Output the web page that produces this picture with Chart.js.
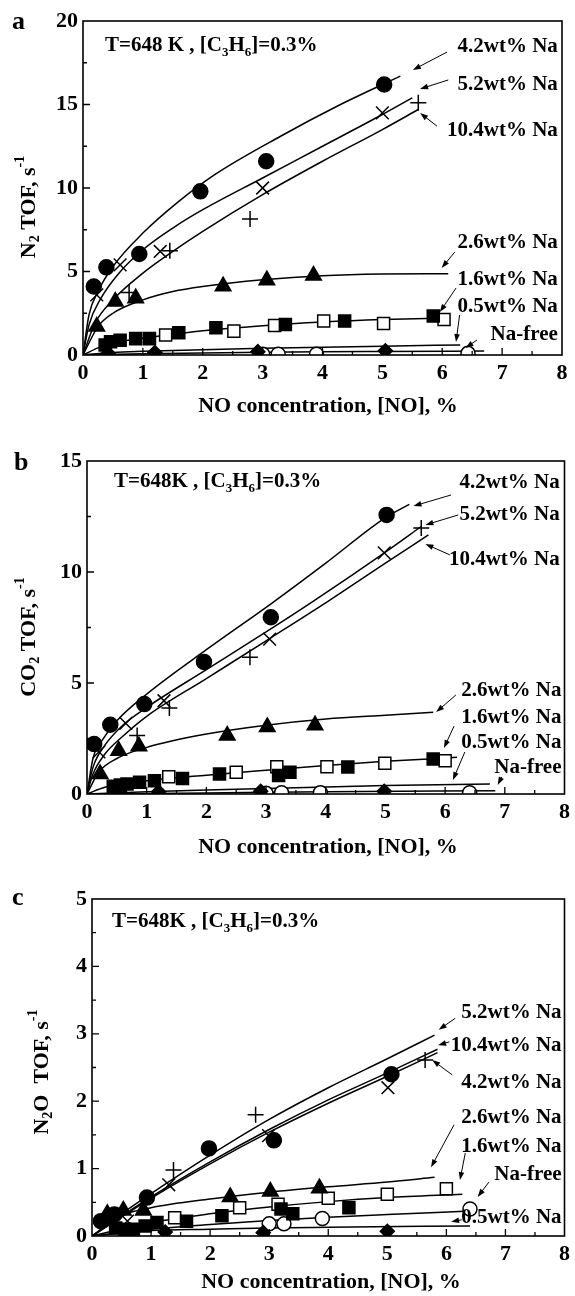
<!DOCTYPE html>
<html lang="en">
<head>
<meta charset="utf-8">
<title>TOF vs NO concentration</title>
<script src="https://cdn.jsdelivr.net/npm/chart.js@4.4.1/dist/chart.umd.min.js"></script>
<style>
  html, body { margin: 0; padding: 0; background: #fff; }
  body { position: relative; width: 575px; height: 1296px; overflow: hidden; }
  canvas { position: absolute; left: 0; }
</style>
</head>
<body>
<canvas id="graficoA" width="575" height="418" style="top:0px"></canvas>
<canvas id="graficoB" width="575" height="438" style="top:420px"></canvas>
<canvas id="graficoC" width="575" height="438" style="top:858px"></canvas>
<script>
const FONTE = "'Liberation Serif', 'Times New Roman', serif";

// Nomes das séries (mesma ordem nos três painéis)
const NOMES = ["4.2wt% Na", "5.2wt% Na", "10.4wt% Na", "2.6wt% Na", "1.6wt% Na", "0.5wt% Na", "Na-free"];
const TITULO_X = "NO concentration, [NO], %";
const TICKS_X = [0, 1, 2, 3, 4, 5, 6, 7, 8];

// ---------- Painel a: N2 TOF ----------
const a_pts42 = [[0.18, 4.1], [0.39, 5.25], [0.94, 6.05], [1.96, 9.8], [3.06, 11.6], [5.03, 16.2]];
const a_pts52 = [[0.23, 3.6], [0.62, 5.4], [1.29, 6.2], [3.0, 10.0], [5.0, 14.5]];
const a_pts104 = [[0.77, 3.75], [1.45, 6.25], [2.79, 8.15], [5.6, 15.1]];
const a_pts26 = [[0.23, 1.7], [0.54, 3.2], [0.88, 3.4], [2.34, 4.12], [3.07, 4.48], [3.85, 4.76]];
const a_pts16f = [[0.37, 0.6], [0.46, 0.8], [0.62, 0.88], [0.88, 0.98], [1.11, 0.98], [1.6, 1.33], [2.22, 1.63], [3.38, 1.83], [4.37, 2.03], [5.85, 2.33]];
const a_pts16a = [[1.38, 1.2], [2.52, 1.43], [3.2, 1.77], [4.02, 2.03], [5.02, 1.89], [6.03, 2.13]];
const a_pts05 = [[0.42, 0.1], [1.2, 0.15], [2.92, 0.2], [5.05, 0.25]];
const a_ptsLivre = [[3.0, 0.05], [3.26, 0.05], [3.9, 0.05], [6.43, 0.1]];

const a_curva42 = [[0, 0], [0.1, 2.4], [0.25, 3.8], [0.5, 5.3], [1, 7.3], [1.6, 9.2], [2.2, 10.8], [3.3, 13.1], [4.3, 15.0], [5.3, 16.7]];
const a_curva52 = [[0, 0], [0.1, 1.8], [0.3, 3.4], [0.6, 4.9], [1, 6.3], [1.5, 7.6], [2, 8.7], [3, 10.6], [4, 12.5], [5, 14.4], [5.5, 15.4]];
const a_curva104 = [[0, 0], [0.2, 1.9], [0.5, 3.3], [1, 4.9], [1.5, 6.2], [2, 7.4], [3, 9.6], [4, 11.6], [5, 13.5], [5.6, 14.7]];
const a_curva26 = [[0, 0], [0.25, 1.7], [0.5, 2.5], [1, 3.3], [1.5, 3.8], [2, 4.1], [3, 4.5], [4, 4.75], [5, 4.85], [6.1, 4.87]];
const a_curva16 = [[0, 0], [0.3, 0.5], [0.6, 0.8], [1, 1.0], [2, 1.45], [3, 1.75], [4, 1.97], [5, 2.12], [6.1, 2.22]];
const a_curva05 = [[0, 0], [0.5, 0.15], [1, 0.22], [2, 0.32], [3, 0.4], [4, 0.47], [5, 0.53], [6.3, 0.6]];
const a_curvaLivre = [[0, 0], [1, 0.07], [2, 0.12], [3, 0.16], [4, 0.19], [5, 0.21], [6.7, 0.24]];

// ---------- Painel b: CO2 TOF ----------
const b_pts42 = [[0.12, 2.25], [0.39, 3.12], [0.96, 4.05], [1.96, 5.95], [3.08, 7.96], [5.02, 12.57]];
const b_pts52 = [[0.2, 1.9], [0.65, 3.18], [1.29, 4.2], [3.06, 6.98], [4.98, 10.86]];
const b_pts104 = [[0.84, 2.63], [1.38, 3.87], [2.73, 6.16], [5.6, 11.98]];
const b_pts26 = [[0.22, 0.9], [0.53, 1.95], [0.87, 2.15], [2.35, 2.63], [3.02, 3.02], [3.82, 3.1]];
const b_pts16f = [[0.44, 0.35], [0.56, 0.4], [0.67, 0.45], [0.88, 0.53], [1.13, 0.6], [1.6, 0.7], [2.22, 0.9], [3.21, 0.83], [3.4, 0.98], [4.37, 1.22], [5.8, 1.58]];
const b_pts16a = [[1.37, 0.78], [2.5, 0.98], [3.18, 1.23], [4.02, 1.23], [4.99, 1.38], [6.0, 1.5]];
const b_pts05 = [[1.2, 0.1], [2.91, 0.12], [4.98, 0.12]];
const b_ptsLivre = [[3.0, 0.03], [3.26, 0.06], [3.91, 0.06], [6.41, 0.06]];

const b_curva42 = [[0, 0], [0.1, 1.6], [0.25, 2.4], [0.5, 3.3], [1, 4.5], [2, 6.5], [3.1, 8.6], [4, 10.4], [5, 12.45], [5.4, 13.05]];
const b_curva52 = [[0, 0], [0.1, 1.2], [0.3, 2.2], [0.6, 3.1], [1, 3.9], [2, 5.6], [3, 7.3], [3.8, 8.7], [5, 10.9], [5.6, 12.05]];
const b_curva104 = [[0, 0], [0.1, 0.9], [0.3, 1.8], [0.6, 2.6], [1, 3.5], [2, 5.2], [3, 6.9], [4.05, 8.7], [5, 10.4], [5.72, 11.67]];
const b_curva26 = [[0, 0], [0.2, 1.0], [0.5, 1.6], [1, 2.1], [2, 2.7], [3, 3.1], [4, 3.38], [5, 3.55], [5.8, 3.68]];
const b_curva16 = [[0, 0], [0.3, 0.3], [0.6, 0.45], [1, 0.6], [2, 0.85], [3, 1.07], [4, 1.28], [5, 1.47], [6.2, 1.65]];
const b_curva05 = [[0, 0], [1, 0.1], [2, 0.18], [3, 0.25], [4, 0.32], [5, 0.38], [6.75, 0.45]];
const b_curvaLivre = [[0, 0], [2, 0.05], [4, 0.1], [6.84, 0.15]];

// ---------- Painel c: N2O TOF ----------
const c_pts42 = [[0.15, 0.22], [0.38, 0.32], [0.93, 0.57], [1.98, 1.3], [3.08, 1.42], [5.07, 2.4]];
const c_pts52 = [[0.6, 0.22], [1.3, 0.76], [2.99, 1.49], [5.01, 2.2]];
const c_pts104 = [[0.3, 0.25], [1.38, 0.98], [2.77, 1.8], [5.64, 2.61]];
const c_pts26 = [[0.26, 0.33], [0.53, 0.38], [0.87, 0.38], [2.34, 0.58], [3.02, 0.66], [3.85, 0.71]];
const c_pts16f = [[0.4, 0.12], [0.55, 0.1], [0.7, 0.1], [0.9, 0.15], [1.1, 0.2], [1.6, 0.22], [2.2, 0.3], [3.2, 0.4], [3.4, 0.33], [4.35, 0.42]];
const c_pts16a = [[1.4, 0.27], [2.5, 0.42], [3.15, 0.47], [4.0, 0.56], [5.0, 0.62], [6.0, 0.7]];
const c_pts05 = [[1.24, 0.06], [2.9, 0.05], [5.0, 0.07]];
const c_ptsLivre = [[3.0, 0.18], [3.25, 0.18], [3.9, 0.26], [6.4, 0.4]];

const c_curva42 = [[0, 0], [1, 0.56], [2, 1.07], [3, 1.54], [4, 1.97], [5, 2.37], [5.85, 2.72]];
const c_curva52 = [[0, 0], [0.5, 0.33], [1, 0.63], [2, 1.2], [3, 1.73], [4, 2.2], [5, 2.63], [5.8, 2.98]];
const c_curva104 = [[0, 0], [1, 0.58], [2, 1.1], [3, 1.58], [4, 2.02], [5, 2.42], [5.85, 2.77]];
const c_curva26 = [[0, 0], [0.5, 0.3], [1, 0.42], [2, 0.55], [3, 0.65], [4, 0.73], [5, 0.8], [5.8, 0.87]];
const c_curva16 = [[0, 0], [1, 0.2], [2, 0.33], [3, 0.43], [4, 0.51], [5, 0.57], [6.27, 0.62]];
const c_curva05 = [[0, 0], [1, 0.08], [2, 0.1], [3, 0.12], [4, 0.13], [6.4, 0.15]];
const c_curvaLivre = [[0, 0], [1, 0.1], [2, 0.17], [3, 0.23], [4, 0.28], [5, 0.32], [6.4, 0.37]];

// Marcadores de cada série
const ESTILOS = {
  s42: { forma: "circle", r: 7.5, cheio: true },
  s52: { forma: "crossRot", r: 9, cheio: true },
  s104: { forma: "cross", r: 8, cheio: true },
  s26: { forma: "triangle", r: 9, cheio: true },
  s16f: { forma: "rect", r: 8.5, cheio: true },
  s16a: { forma: "rect", r: 8.5, cheio: false },
  s05: { forma: "rectRot", r: 7, cheio: true },
  sLivre: { forma: "circle", r: 7, cheio: false },
};

function pontos(lista) {
  return lista.map((p) => ({ x: p[0], y: p[1] }));
}

function dsCurva(lista) {
  return {
    data: pontos(lista),
    showLine: true,
    pointRadius: 0,
    borderColor: "#000",
    borderWidth: 1.5,
    cubicInterpolationMode: "monotone",
    order: 2,
  };
}

function dsMarcador(lista, estilo) {
  return {
    data: pontos(lista),
    showLine: false,
    pointStyle: estilo.forma,
    pointRadius: estilo.r,
    pointBorderWidth: 1.5,
    pointBorderColor: "#000",
    pointBackgroundColor: estilo.cheio ? "#000" : "#fff",
    order: 1,
  };
}

// Texto com subscritos (-1) e sobrescritos (1)
function textoRico(ctx, partes, x, y, tam, alinhamento) {
  const medir = (p) => {
    ctx.font = `bold ${p[1] ? Math.round(tam * 0.62) : tam}px ${FONTE}`;
    return ctx.measureText(p[0]).width;
  };
  const total = partes.reduce((s, p) => s + medir(p), 0);
  let cx = alinhamento === "center" ? x - total / 2 : alinhamento === "right" ? x - total : x;
  ctx.textAlign = "left";
  ctx.textBaseline = "middle";
  partes.forEach((p) => {
    const w = medir(p);
    const dy = p[1] === -1 ? tam * 0.3 : p[1] === 1 ? -tam * 0.4 : 0;
    ctx.fillText(p[0], cx, y + dy);
    cx += w;
  });
}

function seta(ctx, x1, y1, x2, y2) {
  const ang = Math.atan2(y2 - y1, x2 - x1);
  const comp = 8;
  const larg = 2.8;
  ctx.lineWidth = 1;
  ctx.beginPath();
  ctx.moveTo(x1, y1);
  ctx.lineTo(x2 - Math.cos(ang) * comp * 0.7, y2 - Math.sin(ang) * comp * 0.7);
  ctx.stroke();
  ctx.beginPath();
  ctx.moveTo(x2, y2);
  ctx.lineTo(x2 - comp * Math.cos(ang) + larg * Math.sin(ang), y2 - comp * Math.sin(ang) - larg * Math.cos(ang));
  ctx.lineTo(x2 - comp * Math.cos(ang) - larg * Math.sin(ang), y2 - comp * Math.sin(ang) + larg * Math.cos(ang));
  ctx.closePath();
  ctx.fill();
}

// Moldura, marcas internas, títulos e rótulos com setas
const decoracao = {
  id: "decoracao",
  afterDraw(chart, args, op) {
    const { ctx, chartArea: area } = chart;
    const x = chart.scales.x;
    const y = chart.scales.y;
    ctx.save();
    ctx.strokeStyle = "#000";
    ctx.fillStyle = "#000";

    ctx.lineWidth = 1.6;
    ctx.strokeRect(area.left, area.top, area.right - area.left, area.bottom - area.top);

    ctx.lineWidth = 1.3;
    ctx.beginPath();
    const meioX = op.passoX / 2;
    for (let i = 1; x.min + i * meioX < x.max - 1e-9; i++) {
      const px = x.getPixelForValue(x.min + i * meioX);
      const t = i % 2 === 0 ? 7 : 4;
      ctx.moveTo(px, area.bottom);
      ctx.lineTo(px, area.bottom - t);
    }
    const meioY = op.passoY / 2;
    for (let i = 1; y.min + i * meioY < y.max - 1e-9; i++) {
      const py = y.getPixelForValue(y.min + i * meioY);
      const t = i % 2 === 0 ? 7 : 4;
      ctx.moveTo(area.left, py);
      ctx.lineTo(area.left + t, py);
    }
    ctx.stroke();

    // letra do painel
    ctx.font = `bold 26px ${FONTE}`;
    ctx.textAlign = "left";
    ctx.textBaseline = "middle";
    ctx.fillText(op.letra, op.posLetra[0], op.posLetra[1]);

    // condição
    textoRico(ctx, op.condicao, area.left + op.posCondicao[0], area.top + op.posCondicao[1], 21, "left");

    // título do eixo y (girado)
    ctx.save();
    ctx.translate(op.posTituloY[0], op.posTituloY[1]);
    ctx.rotate(-Math.PI / 2);
    textoRico(ctx, op.tituloY, 0, 0, 22, "center");
    ctx.restore();

    // título do eixo x
    ctx.font = `bold 22px ${FONTE}`;
    ctx.textAlign = "center";
    ctx.textBaseline = "middle";
    ctx.fillText(TITULO_X, op.posTituloX[0], op.posTituloX[1]);

    // rótulos das séries
    op.rotulos.forEach((r) => {
      ctx.font = `bold 21px ${FONTE}`;
      ctx.textAlign = "right";
      ctx.textBaseline = "middle";
      ctx.fillText(NOMES[r.n], x.getPixelForValue(r.t[0]), y.getPixelForValue(r.t[1]));
      seta(ctx,
        x.getPixelForValue(r.s[0]), y.getPixelForValue(r.s[1]),
        x.getPixelForValue(r.s[2]), y.getPixelForValue(r.s[3]));
    });
    ctx.restore();
  },
};

function criarGrafico(id, cfg) {
  const fonteTicks = { family: FONTE, size: 22, weight: "bold" };
  const datasets = [
    dsMarcador(cfg.pts[0], ESTILOS.s42),
    dsMarcador(cfg.pts[1], ESTILOS.s52),
    dsMarcador(cfg.pts[2], ESTILOS.s104),
    dsMarcador(cfg.pts[3], ESTILOS.s26),
    dsMarcador(cfg.pts[4], ESTILOS.s16f),
    dsMarcador(cfg.pts[5], ESTILOS.s16a),
    dsMarcador(cfg.pts[6], ESTILOS.s05),
    dsMarcador(cfg.pts[7], ESTILOS.sLivre),
  ].concat(cfg.curvas.map(dsCurva));

  return new Chart(document.getElementById(id), {
    type: "scatter",
    data: { datasets },
    options: {
      responsive: false,
      animation: false,
      layout: { padding: { top: cfg.padTopo, right: cfg.padDireita, left: 0, bottom: 0 } },
      plugins: {
        legend: { display: false },
        tooltip: { enabled: false },
        decoracao: cfg.decoracao,
      },
      scales: {
        x: {
          type: "linear",
          min: TICKS_X[0],
          max: TICKS_X[TICKS_X.length - 1],
          afterFit: (s) => { s.height = cfg.alturaX; },
          grid: { display: false, drawTicks: false },
          border: { display: false },
          ticks: { stepSize: 1, padding: 5, color: "#000", font: fonteTicks, maxRotation: 0, autoSkip: false },
        },
        y: {
          type: "linear",
          min: cfg.ticksY[0],
          max: cfg.ticksY[cfg.ticksY.length - 1],
          afterFit: (s) => { s.width = cfg.larguraY; },
          grid: { display: false, drawTicks: false },
          border: { display: false },
          ticks: { stepSize: cfg.ticksY[1] - cfg.ticksY[0], padding: 5, color: "#000", font: fonteTicks, autoSkip: false },
        },
      },
    },
    plugins: [decoracao],
  });
}

criarGrafico("graficoA", {
  ticksY: [0, 5, 10, 15, 20],
  padTopo: 21, padDireita: 13, alturaX: 63, larguraY: 83,
  pts: [a_pts42, a_pts52, a_pts104, a_pts26, a_pts16f, a_pts16a, a_pts05, a_ptsLivre],
  curvas: [a_curva42, a_curva52, a_curva104, a_curva26, a_curva16, a_curva05, a_curvaLivre],
  decoracao: {
    passoX: 1, passoY: 5,
    letra: "a", posLetra: [12, 22],
    condicao: [["T=648 K , [C", 0], ["3", -1], ["H", 0], ["6", -1], ["]=0.3%", 0]],
    posCondicao: [22, 25],
    tituloY: [["N", 0], ["2", -1], [" TOF, s", 0], ["-1", 1]],
    posTituloY: [29, 207],
    posTituloX: [328, 406],
    rotulos: [
      { n: 0, t: [7.93, 18.44], s: [6.08, 18.14, 5.51, 17.07] },
      { n: 1, t: [7.93, 16.17], s: [6.1, 16.47, 5.63, 15.93] },
      { n: 2, t: [7.93, 13.41], s: [5.91, 13.71, 5.63, 14.49] },
      { n: 3, t: [7.93, 6.71], s: [6.21, 6.17, 5.99, 5.21] },
      { n: 4, t: [7.93, 4.49], s: [6.23, 4.01, 5.96, 2.57] },
      { n: 5, t: [7.93, 2.87], s: [6.29, 2.4, 6.23, 0.78] },
      { n: 6, t: [7.93, 1.2], s: [6.58, 0.9, 6.39, 0.42] },
    ],
  },
});

criarGrafico("graficoB", {
  ticksY: [0, 5, 10, 15],
  padTopo: 41, padDireita: 8, alturaX: 64, larguraY: 87,
  pts: [b_pts42, b_pts52, b_pts104, b_pts26, b_pts16f, b_pts16a, b_pts05, b_ptsLivre],
  curvas: [b_curva42, b_curva52, b_curva104, b_curva26, b_curva16, b_curva05, b_curvaLivre],
  decoracao: {
    passoX: 1, passoY: 5,
    letra: "b", posLetra: [14, 43],
    condicao: [["T=648K , [C", 0], ["3", -1], ["H", 0], ["6", -1], ["]=0.3%", 0]],
    posCondicao: [27, 21],
    tituloY: [["CO", 0], ["2", -1], [" TOF, s", 0], ["-1", 1]],
    posTituloY: [29, 217],
    posTituloX: [328, 427],
    rotulos: [
      { n: 0, t: [7.92, 14.05], s: [6.1, 13.47, 5.47, 12.97] },
      { n: 1, t: [7.92, 12.57], s: [6.22, 12.57, 5.67, 12.12] },
      { n: 2, t: [7.92, 10.54], s: [6.08, 10.77, 5.67, 11.26] },
      { n: 3, t: [7.95, 4.68], s: [6.18, 4.46, 5.85, 3.69] },
      { n: 4, t: [7.95, 3.42], s: [6.15, 3.06, 5.98, 2.07] },
      { n: 5, t: [7.95, 2.3], s: [6.33, 1.89, 6.13, 0.63] },
      { n: 6, t: [7.95, 1.17], s: [6.95, 0.77, 6.88, 0.41] },
    ],
  },
});

criarGrafico("graficoC", {
  ticksY: [0, 1, 2, 3, 4, 5],
  padTopo: 41, padDireita: 5, alturaX: 60, larguraY: 92,
  pts: [c_pts42, c_pts52, c_pts104, c_pts26, c_pts16f, c_pts16a, c_pts05, c_ptsLivre],
  curvas: [c_curva42, c_curva52, c_curva104, c_curva26, c_curva16, c_curva05, c_curvaLivre],
  decoracao: {
    passoX: 1, passoY: 1,
    letra: "c", posLetra: [12, 40],
    condicao: [["T=648K , [C", 0], ["3", -1], ["H", 0], ["6", -1], ["]=0.3%", 0]],
    posCondicao: [20, 23],
    tituloY: [["N", 0], ["2", -1], ["O  TOF, s", 0], ["-1", 1]],
    posTituloY: [42, 214],
    posTituloX: [331, 424],
    rotulos: [
      { n: 1, t: [7.95, 3.31], s: [6.15, 3.23, 5.87, 3.06] },
      { n: 2, t: [7.95, 2.83], s: [6.05, 2.88, 5.86, 2.83] },
      { n: 0, t: [7.95, 2.27], s: [6.1, 2.39, 5.76, 2.61] },
      { n: 3, t: [7.95, 1.75], s: [6.13, 1.65, 5.74, 1.02] },
      { n: 4, t: [7.95, 1.32], s: [6.32, 1.23, 6.23, 0.83] },
      { n: 6, t: [7.95, 0.91], s: [6.72, 0.8, 6.53, 0.58] },
      { n: 5, t: [7.95, 0.27], s: [6.26, 0.24, 6.08, 0.21] },
    ],
  },
});
</script>
</body>
</html>
